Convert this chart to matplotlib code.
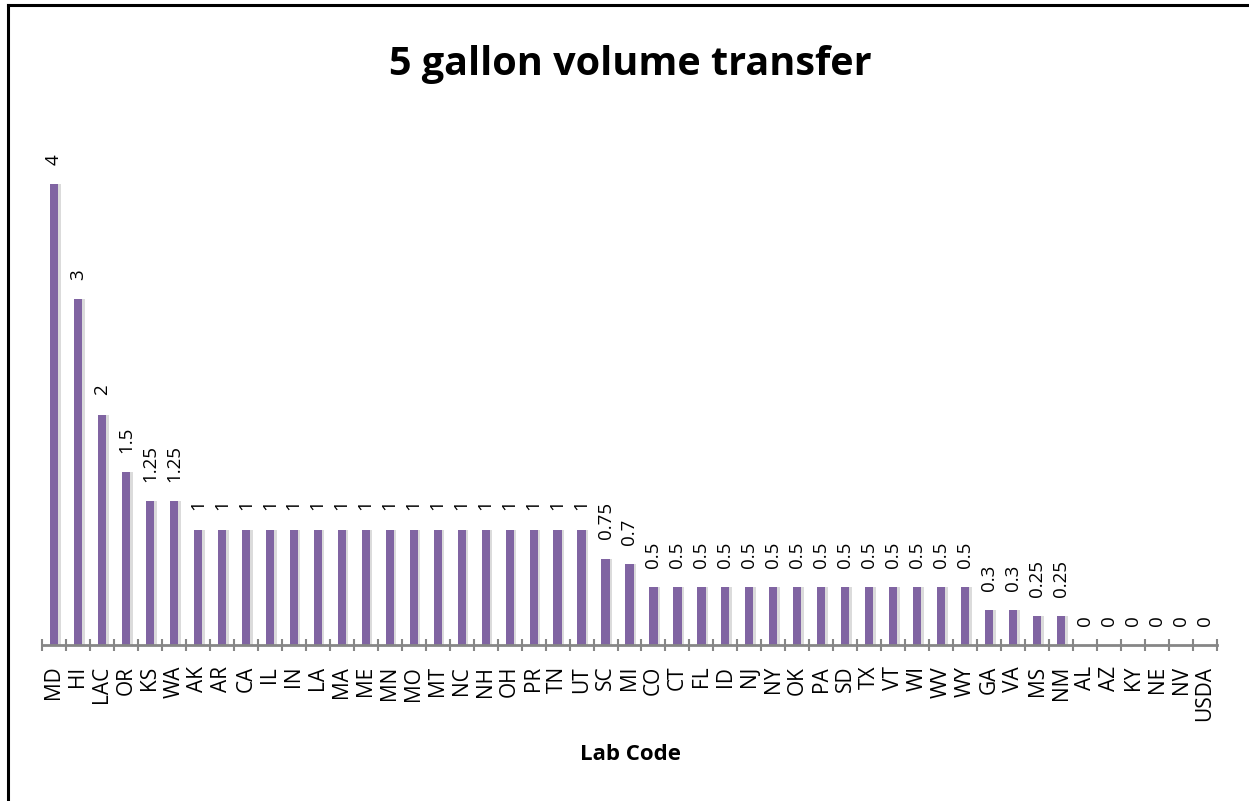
import matplotlib
matplotlib.use("Agg")
import matplotlib.pyplot as plt
from matplotlib.lines import Line2D
import numpy as np

categories = ["MD", "HI", "LAC", "OR", "KS", "WA", "AK", "AR", "CA", "IL", "IN", "LA",
              "MA", "ME", "MN", "MO", "MT", "NC", "NH", "OH", "PR", "TN", "UT", "SC",
              "MI", "CO", "CT", "FL", "ID", "NJ", "NY", "OK", "PA", "SD", "TX", "VT",
              "WI", "WV", "WY", "GA", "VA", "MS", "NM", "AL", "AZ", "KY", "NE", "NV", "USDA"]
values = [4, 3, 2, 1.5, 1.25, 1.25] + [1] * 17 + [0.75, 0.7] + [0.5] * 14 + \
         [0.3, 0.3, 0.25, 0.25] + [0] * 6
value_labels = ["4", "3", "2", "1.5", "1.25", "1.25"] + ["1"] * 17 + ["0.75", "0.7"] + \
               ["0.5"] * 14 + ["0.3", "0.3", "0.25", "0.25"] + ["0"] * 6

plt.rcParams['font.family'] = ['Open Sans', 'DejaVu Sans']

fig = plt.figure(figsize=(12.49, 8.01), dpi=100)
ax = fig.add_axes([42 / 1249, 156 / 801, 1175 / 1249, (4.5 * 115.2) / 801])

x = np.arange(len(categories))
# soft shadow
ax.bar(x + 0.1, values, width=0.36, color="#b0b0b0", alpha=0.45, zorder=1)
ax.bar(x, values, width=0.34, color="#8064A2", zorder=2)

for xi, v, lab in zip(x, values, value_labels):
    ax.annotate(lab, (xi, v), xytext=(0, 14), textcoords="offset points",
                rotation=90, ha="center", va="bottom", fontsize=13.5, color="black")

ax.set_xlim(-0.5, len(categories) - 0.5)
ax.set_ylim(0, 4.5)
ax.set_yticks([])
for s in ["top", "right", "left"]:
    ax.spines[s].set_visible(False)
ax.spines["bottom"].set_color("#868686")
ax.spines["bottom"].set_linewidth(2)

ax.set_xticks(np.arange(-0.5, len(categories), 1.0))
ax.set_xticklabels([])
ax.tick_params(axis="x", which="major", direction="inout", length=9, width=1.5,
               color="#868686")
ax.set_xticks(x, minor=True)
ax.set_xticklabels(categories, minor=True, rotation=90, fontsize=15)
ax.tick_params(axis="x", which="minor", length=0, pad=15)

fig.text(630 / 1249, 1 - 65 / 801, "5 gallon volume transfer", ha="center", va="center",
         fontsize=28.5, fontweight="bold")
fig.text(630 / 1249, 1 - 755 / 801, "Lab Code", ha="center", va="center",
         fontsize=16, fontweight="bold")

# outer border (partially cropped)
fig.add_artist(Line2D([8 / 1249, 8 / 1249], [0, 1 - 5 / 801], transform=fig.transFigure,
                      color="black", linewidth=2.2))
fig.add_artist(Line2D([8 / 1249, 1], [1 - 5 / 801, 1 - 5 / 801], transform=fig.transFigure,
                      color="black", linewidth=2.2))

fig.savefig("out.png", dpi=100)
